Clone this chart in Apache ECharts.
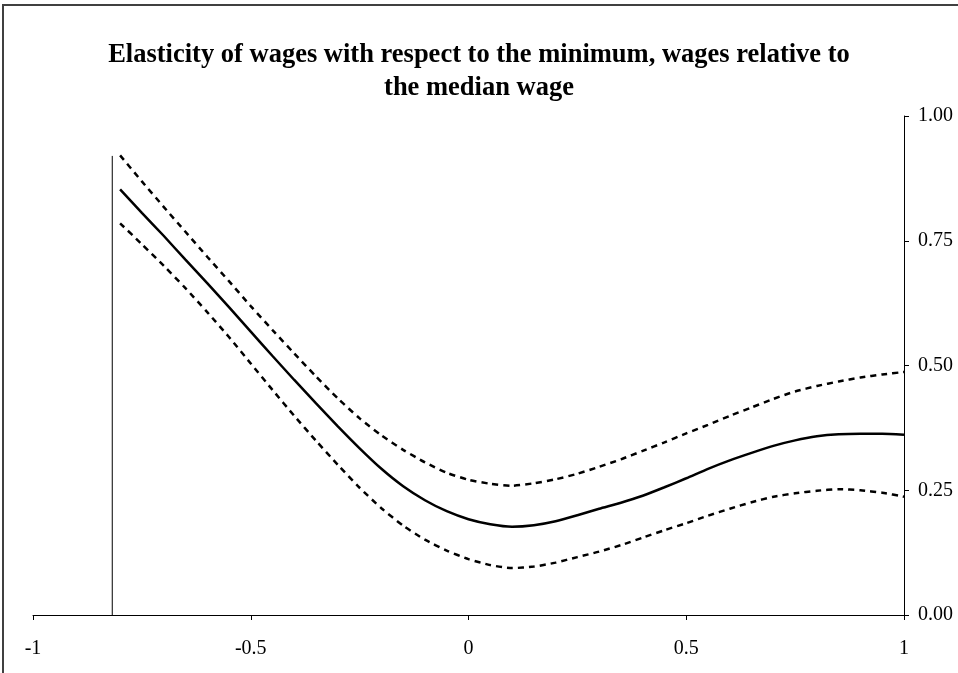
<!DOCTYPE html>
<html>
<head>
<meta charset="utf-8">
<script src="https://cdn.jsdelivr.net/npm/echarts@6/dist/echarts.min.js"></script>
<style>
  html, body { margin: 0; padding: 0; background: #fff; }
  #chart { width: 958px; height: 673px; }
</style>
</head>
<body>
<div id="chart"></div>
<script>
// Gap between log minimum and log median wage (x) and the wage elasticity estimate
const gapValues = [
  -0.80, -0.75, -0.70, -0.65, -0.60, -0.55, -0.50, -0.45, -0.40, -0.35,
  -0.30, -0.25, -0.20, -0.15, -0.10, -0.05, 0.00, 0.05, 0.10, 0.15,
  0.20, 0.25, 0.30, 0.35, 0.40, 0.45, 0.50, 0.55, 0.60, 0.65,
  0.70, 0.75, 0.80, 0.85, 0.90, 0.95, 1.00
];
const elasticity = [
  0.853, 0.806, 0.760, 0.712, 0.665, 0.617, 0.568, 0.519, 0.471, 0.424,
  0.378, 0.334, 0.293, 0.258, 0.230, 0.208, 0.192, 0.182, 0.177, 0.180,
  0.188, 0.200, 0.213, 0.225, 0.239, 0.256, 0.274, 0.293, 0.310, 0.325,
  0.339, 0.350, 0.358, 0.362, 0.363, 0.363, 0.361
];
const upperBand = [
  0.921, 0.869, 0.818, 0.768, 0.718, 0.669, 0.619, 0.571, 0.524, 0.478,
  0.434, 0.394, 0.360, 0.331, 0.306, 0.285, 0.271, 0.263, 0.259, 0.264,
  0.272, 0.283, 0.297, 0.312, 0.329, 0.346, 0.364, 0.381, 0.399, 0.416,
  0.433, 0.448, 0.459, 0.468, 0.476, 0.482, 0.487
];
const lowerBand = [
  0.785, 0.743, 0.700, 0.655, 0.607, 0.557, 0.504, 0.451, 0.399, 0.349,
  0.301, 0.255, 0.214, 0.179, 0.151, 0.129, 0.112, 0.100, 0.094, 0.097,
  0.105, 0.116, 0.127, 0.140, 0.155, 0.170, 0.184, 0.199, 0.213, 0.226,
  0.237, 0.244, 0.249, 0.252, 0.250, 0.245, 0.237
];
// Vertical reference line at the lowest observed gap
const referenceX = [-0.818, -0.818];
const referenceY = [0, 0.92];

const xTicks = [-1, -0.5, 0, 0.5, 1];
const yTicks = [0, 0.25, 0.5, 0.75, 1];

const pairs = (xs, ys) => xs.map((x, i) => [x, ys[i]]);

const serif = '"Liberation Serif", "Times New Roman", serif';
const chart = echarts.init(document.getElementById('chart'), null, { renderer: 'canvas' });

chart.setOption({
  backgroundColor: '#ffffff',
  animation: false,
  title: {
    text: 'Elasticity of wages with respect to the minimum, wages relative to\nthe median wage',
    left: 'center',
    top: 39,
    padding: [0, 0, 0, 20],
    textStyle: {
      fontFamily: serif,
      fontWeight: 'bold',
      fontSize: 26.5,
      lineHeight: 33,
      color: '#000'
    }
  },
  graphic: [{
    type: 'rect',
    shape: { x: 3, y: 5, width: 1200, height: 1000 },
    style: { fill: 'none', stroke: '#404040', lineWidth: 2 },
    silent: true
  }],
  grid: {
    left: 33, right: 54, top: 116, bottom: 58,
    outerBoundsMode: 'none'
  },
  xAxis: {
    type: 'value',
    min: xTicks[0],
    max: xTicks[xTicks.length - 1],
    interval: 0.5,
    axisLine: { onZero: false, lineStyle: { color: '#000', width: 1 } },
    axisTick: { show: true, inside: false, length: 5, lineStyle: { color: '#000' } },
    splitLine: { show: false },
    axisLabel: {
      margin: 24,
      color: '#000',
      fontFamily: serif,
      fontSize: 20,
      formatter: v => String(v)
    }
  },
  yAxis: {
    type: 'value',
    position: 'right',
    min: yTicks[0],
    max: yTicks[yTicks.length - 1],
    interval: 0.25,
    axisLine: { show: true, onZero: false, lineStyle: { color: '#000', width: 1 } },
    axisTick: { show: true, inside: false, length: 5, lineStyle: { color: '#000' } },
    splitLine: { show: false },
    axisLabel: {
      margin: 14,
      color: '#000',
      fontFamily: serif,
      fontSize: 20,
      formatter: v => v.toFixed(2)
    }
  },
  series: [
    {
      name: 'Reference',
      type: 'line',
      data: pairs(referenceX, referenceY),
      showSymbol: false,
      lineStyle: { color: '#000', width: 1 },
      silent: true
    },
    {
      name: 'Upper bound',
      type: 'line',
      data: pairs(gapValues, upperBand),
      smooth: 0.2,
      showSymbol: false,
      lineStyle: { color: '#000', width: 2.5, type: [6, 5] }
    },
    {
      name: 'Elasticity',
      type: 'line',
      data: pairs(gapValues, elasticity),
      smooth: 0.2,
      showSymbol: false,
      lineStyle: { color: '#000', width: 2.5 }
    },
    {
      name: 'Lower bound',
      type: 'line',
      data: pairs(gapValues, lowerBand),
      smooth: 0.2,
      showSymbol: false,
      lineStyle: { color: '#000', width: 2.5, type: [6, 5] }
    }
  ]
});
</script>
</body>
</html>
